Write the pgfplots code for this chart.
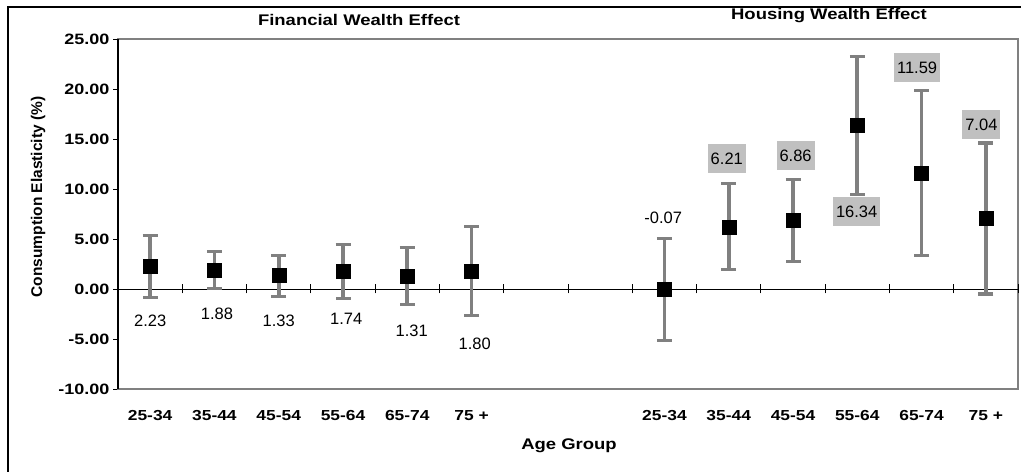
\documentclass[border=0pt]{standalone}
\usepackage{fontspec}
\setmainfont{Liberation Sans}[FakeStretch=1.2]
\newfontfamily\plainsans{Liberation Sans}
\usepackage{pgfplots}
\pgfplotsset{compat=1.18}
\usepackage{pgfplotstable}
\definecolor{errgray}{HTML}{808080}
\definecolor{boxgray}{HTML}{C0C0C0}

\pgfplotstableread{
x y e
0 2.23 3.08
1 1.88 1.86
2 1.33 2.05
3 1.74 2.67
4 1.31 2.84
5 1.80 4.46
}\fin
\pgfplotstableread{
x y e
8 -0.07 5.10
9 6.21 4.30
10 6.86 4.10
11 16.34 6.90
12 11.59 8.28
13 7.04 7.55
}\hou

\begin{document}
\begin{tikzpicture}[x=1bp,y=1bp,
 lab/.style={font=\fontsize{16.5bp}{19bp}\plainsans, inner sep=0pt},
 boxlab/.style={font=\fontsize{16.5bp}{19bp}\plainsans, fill=boxgray, inner xsep=3bp, inner ysep=0pt, minimum height=29bp}]
\begin{axis}[
 at={(118bp,83bp)}, anchor=south west,
 scale only axis, width=900bp, height=350bp,
 xmin=-0.5, xmax=13.5, ymin=-10, ymax=25,
 axis line style={errgray, line width=1.2bp},
 xtick={0,1,2,3,4,5,8,9,10,11,12,13},
 xticklabels={25-34,35-44,45-54,55-64,65-74,75 +,25-34,35-44,45-54,55-64,65-74,75 +},
 xtick style={draw=none},
 xticklabel style={font=\fontsize{14.5bp}{18bp}\selectfont\bfseries, anchor=center, yshift=-22bp},
 ytick={-10,-5,0,5,10,15,20,25},
 yticklabels={-10.00,-5.00,0.00,5.00,10.00,15.00,20.00,25.00},
 ytick pos=left, tick align=outside, major tick length=5bp,
 ytick style={black, line width=0.8bp},
 yticklabel style={font=\fontsize{15bp}{18bp}\selectfont\bfseries},
 clip=false,
]
\draw[black, line width=0.8bp] (axis cs:-0.5,0) -- (axis cs:13.5,0);
\pgfplotsinvokeforeach{0.5,1.5,...,13.5}{\draw[black,line width=0.8bp] ([yshift=-4.5bp]axis cs:#1,0) -- ([yshift=4.5bp]axis cs:#1,0);}
\addplot[only marks, mark=square*, mark size=7bp, mark options={black},
  error bars/.cd, y dir=both, y explicit,
  error bar style={errgray, line width=3.8bp},
  error mark options={errgray, line width=3.2bp, mark size=7.5bp, rotate=90}]
  table[x=x,y=y,y error=e]{\fin};
\addplot[only marks, mark=square*, mark size=7bp, mark options={black},
  error bars/.cd, y dir=both, y explicit,
  error bar style={errgray, line width=3.8bp},
  error mark options={errgray, line width=3.2bp, mark size=7.5bp, rotate=90}]
  table[x=x,y=y,y error=e]{\hou};
\draw[black, line width=1.2bp] (rel axis cs:0,0) -- (rel axis cs:0,1);
\node[lab] at (axis cs:0,-3.2) {2.23};
\node[lab] at (axis cs:1.04,-2.5) {1.88};
\node[lab] at (axis cs:2.0,-3.2) {1.33};
\node[lab] at (axis cs:3.05,-3.0) {1.74};
\node[lab] at (axis cs:4.07,-4.2) {1.31};
\node[lab] at (axis cs:5.05,-5.5) {1.80};
\node[lab] at (axis cs:7.98,7.1) {-0.07};
\node[boxlab] at (axis cs:8.97,13.0) {6.21};
\node[boxlab] at (axis cs:10.04,13.3) {6.86};
\node[boxlab] at (axis cs:10.99,7.7) {16.34};
\node[boxlab] at (axis cs:11.93,22.1) {11.59};
\node[boxlab] at (axis cs:12.93,16.4) {7.04};
\end{axis}
\node[font=\fontsize{15.4bp}{18bp}\selectfont\bfseries] at (359,452) {Financial Wealth Effect};
\node[font=\fontsize{15.4bp}{18bp}\selectfont\bfseries] at (829,456) {Housing Wealth Effect};
\node[font=\fontsize{15.4bp}{18bp}\selectfont\bfseries] at (569,26) {Age Group};
\node[rotate=90, font=\fontsize{15.5bp}{18bp}\plainsans\bfseries] at (38,275) {Consumption Elasticity (\%)};
\draw[black, line width=1.2bp] (8,-10) -- (8,465) -- (1040,465);
\pgfresetboundingbox
\path[use as bounding box] (0,0) rectangle (1021,472);
\end{tikzpicture}
\end{document}
